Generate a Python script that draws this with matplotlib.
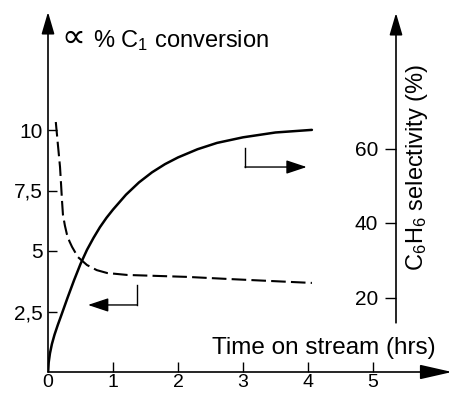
import matplotlib
matplotlib.use('Agg')
import matplotlib.pyplot as plt

plt.rcParams['font.family'] = ['Liberation Sans', 'DejaVu Sans']
plt.rcParams['mathtext.default'] = 'regular'

# C6H6 selectivity (%) vs time on stream (hrs), solid line, right axis
sel_t = [0, 0.01, 0.03, 0.06, 0.1, 0.15, 0.2, 0.3, 0.4, 0.5, 0.6, 0.7, 0.8, 0.9, 1.0,
         1.2, 1.4, 1.6, 1.8, 2.0, 2.3, 2.6, 3.0, 3.5, 4.06]
sel = [0, 2.5, 5.0, 7.5, 10.0, 12.6, 15.0, 19.9, 24.6, 29.0, 32.8, 36.0, 38.9, 41.4, 43.6,
       47.6, 50.9, 53.6, 55.8, 57.6, 59.8, 61.5, 63.0, 64.3, 65.0]

# % C1 conversion vs time on stream, dashed line, left axis
conv_t = [0.12, 0.15, 0.185, 0.2, 0.215, 0.23, 0.26, 0.29, 0.33, 0.37, 0.46, 0.6, 0.75,
          0.91, 1.22, 2.14, 2.8, 4.06]
conv = [10.33, 9.46, 8.47, 7.8, 7.1, 6.5, 6.05, 5.7, 5.4, 5.17, 4.75, 4.42, 4.21,
        4.09, 4.01, 3.93, 3.84, 3.68]

x_ticks = [0, 1, 2, 3, 4, 5]
y_ticks = [2.5, 5, 7.5, 10]
y_labels = ['2,5', '5', '7,5', '10']
r_ticks = [20, 40, 60]

W, H = 452, 393
fig = plt.figure(figsize=(W / 100, H / 100), dpi=100)
ax = fig.add_axes([48 / W, 21 / H, (W - 48) / W, 360 / H])
xmax = 404 / 65
ymax = 360 / 24.2
ax.set_xlim(0, xmax)
ax.set_ylim(0, ymax)
for s in ax.spines.values():
    s.set_visible(False)

ax2 = ax.twinx()
rmax = 360 / 3.725
ax2.set_ylim(0, rmax)
for s in ax2.spines.values():
    s.set_visible(False)
xr = (396 - 48) / 65
ax2.yaxis.tick_left()
ax2.spines['left'].set_position(('data', xr))

lw_ax = 1.2
head = dict(arrowstyle='-|>,head_length=0.75,head_width=0.22', mutation_scale=18,
            color='black', lw=lw_ax, shrinkA=0, shrinkB=0)

# axis lines with arrow heads
ax.annotate('', xy=(0, ymax), xytext=(0, 0), arrowprops=head, annotation_clip=False)
xhead = dict(head, arrowstyle='-|>,head_length=1.1,head_width=0.25')
ax.annotate('', xy=(xmax, 0), xytext=(0, 0), arrowprops=xhead, annotation_clip=False)
ax2.annotate('', xy=(xr, (372 - 13) / 3.725), xytext=(xr, 13.2), arrowprops=head,
             annotation_clip=False)

ax.set_xticks(x_ticks)
ax.set_xticklabels([str(t) for t in x_ticks])
ax.set_yticks(y_ticks)
ax.set_yticklabels(y_labels)
ax.tick_params(axis='x', direction='in', length=7, width=1, pad=1.5, labelsize=14)
ax.tick_params(axis='y', direction='in', length=6.5, width=1, pad=3.5, labelsize=15)
ax2.set_yticks(r_ticks)
ax2.tick_params(axis='y', direction='out', length=8, width=1, pad=5, labelsize=15)

# curves
ax2.plot(sel_t, sel, color='black', lw=1.8, solid_capstyle='round')
ax.plot(conv_t, conv, color='black', lw=1.5, dashes=(7, 2.5))

# little arrows showing which axis each curve belongs to
small = dict(arrowstyle='-|>,head_length=0.9,head_width=0.3', mutation_scale=14,
             color='black', lw=1, shrinkA=0, shrinkB=0)
ax.plot([1.37, 1.37], [3.6, 2.77], color='black', lw=1)
ax.annotate('', xy=(0.615, 2.77), xytext=(1.37, 2.77), arrowprops=small)
ax.plot([3.03, 3.03], [9.26, 8.47], color='black', lw=1)
ax.annotate('', xy=(3.98, 8.47), xytext=(3.03, 8.47), arrowprops=small)

# labels
fig.text(61 / W, 1 - 47 / H, '\u221d', family='DejaVu Sans', fontsize=24, va='baseline')
fig.text(93 / W, 1 - 47 / H, '% C$_1$ conversion', fontsize=17, va='baseline')
fig.text(212 / W, 1 - 354 / H, 'Time on stream (hrs)', fontsize=17.5, va='baseline')
fig.text(417 / W, 1 - 167 / H, 'C$_6$H$_6$ selectivity (%)', fontsize=17,
         rotation=90, ha='center', va='center')

fig.savefig('out.png', dpi=100)
